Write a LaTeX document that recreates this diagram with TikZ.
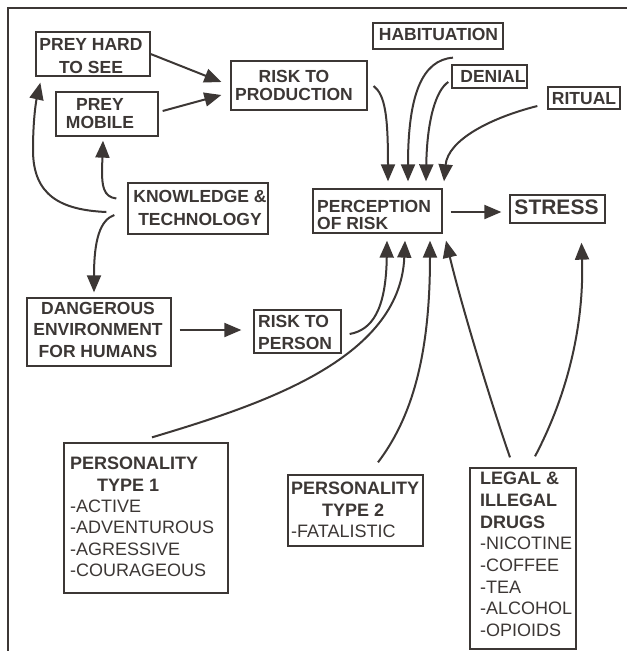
\documentclass[tikz,border=0pt]{standalone}
\usepackage{fontspec}
\setmainfont{Liberation Sans}
\usetikzlibrary{arrows.meta,calc}
\definecolor{ink}{RGB}{60,55,53}
\begin{document}
\begin{tikzpicture}[x=1pt,y=-1pt,
  box/.style={draw=ink, line width=1.3pt, inner sep=0pt, rectangle},
  lbl/.style={inner sep=0pt, text=ink, font={\fontsize{17.5}{21.5}\selectfont\bfseries}},
  arr/.style={draw=ink, line width=2pt, -{Triangle[length=17pt,width=14pt]}},
]
\useasboundingbox (0,0) rectangle (627,651);
\draw[ink, line width=1.5pt] (8,651) -- (8,8) -- (627,8);

% boxes
\node[box, minimum width=114pt, minimum height=44pt] (hard) at (93,54) {};
\node[box, minimum width=102pt, minimum height=44pt] (mobile) at (107,114) {};
\node[box, minimum width=136pt, minimum height=49pt] (prod) at (299,85.5) {};
\node[box, minimum width=130pt, minimum height=26pt] (habit) at (438,36) {};
\node[box, minimum width=75pt, minimum height=23pt] (denial) at (489.5,76.5) {};
\node[box, minimum width=72pt, minimum height=22pt] (ritual) at (584,98) {};
\node[box, minimum width=129pt, minimum height=44pt] (perc) at (377.5,211) {};
\node[box, minimum width=95pt, minimum height=28pt] (stress) at (557.5,209) {};
\node[box, minimum width=140pt, minimum height=51pt] (know) at (198,208.5) {};
\node[box, minimum width=144pt, minimum height=68pt] (danger) at (99,332) {};
\node[box, minimum width=87pt, minimum height=43pt] (person) at (297.5,331.5) {};
\node[box, minimum width=164pt, minimum height=150pt] (pt1) at (146,518) {};
\node[box, minimum width=135pt, minimum height=71pt] (pt2) at (355.5,510.5) {};
\node[box, minimum width=106pt, minimum height=181pt] (drugs) at (523,558.5) {};

% texts
\node[lbl, anchor=north, align=center, font={\fontsize{17.5}{23}\selectfont\bfseries}] (hardt) at (91,38) {PREY HARD\\TO SEE};
\node[lbl, anchor=north, align=center, font={\fontsize{17.5}{18}\selectfont\bfseries}] (mobilet) at (100,98) {PREY\\MOBILE};
\node[lbl, anchor=north, align=center, font={\fontsize{17.5}{18}\selectfont\bfseries}] (prodt) at (294,70) {RISK TO\\PRODUCTION};
\node[lbl, anchor=north] (habitt) at (438.5,28) {HABITUATION};
\node[lbl, anchor=north] (denialt) at (493,70) {DENIAL};
\node[lbl, anchor=north] (ritualt) at (584,92) {RITUAL};
\node[lbl, anchor=north west, align=left, font={\fontsize{17.5}{17.5}\selectfont\bfseries}] (perct) at (317,200) {PERCEPTION\\OF RISK};
\node[lbl, anchor=north, font={\fontsize{21}{24}\selectfont\bfseries}] (stresst) at (556.5,200) {STRESS};
\node[lbl, anchor=north, align=center, font={\fontsize{17.5}{23}\selectfont\bfseries}] (knowt) at (200,190) {KNOWLEDGE \&\\TECHNOLOGY};
\node[lbl, anchor=north, align=center] (dangert) at (98,302) {DANGEROUS\\ENVIRONMENT\\FOR HUMANS};
\node[lbl, anchor=north west, align=left, font={\fontsize{17.5}{22}\selectfont\bfseries}] (persont) at (258,315) {RISK TO\\PERSON};
\node[lbl, anchor=north west, align=left, font={\fontsize{18}{21.4}\selectfont\bfseries}] (pt1t) at (70,457)
  {PERSONALITY\\\hspace*{27pt}TYPE 1\\\mdseries -ACTIVE\\\mdseries -ADVENTUROUS\\\mdseries -AGRESSIVE\\\mdseries -COURAGEOUS};
\node[lbl, anchor=north west, align=left, font={\fontsize{18}{21.5}\selectfont\bfseries}] (pt2t) at (291,482)
  {PERSONALITY\\\hspace*{31pt}TYPE 2\\\mdseries -FATALISTIC};
\node[lbl, anchor=north west, align=left, font={\fontsize{18}{21.7}\selectfont\bfseries}] (drugst) at (480,472)
  {LEGAL \&\\ILLEGAL\\DRUGS\\\mdseries -NICOTINE\\\mdseries -COFFEE\\\mdseries -TEA\\\mdseries -ALCOHOL\\\mdseries -OPIOIDS};

% connectors
\draw[arr] (hard.east) -- ($(prod.west)+(-9,-3.5)$);
\draw[arr] ($(mobile.east)+(4,-3)$) -- ($(prod.west)+(-9,9.5)$);
\draw[arr] ($(know.west)+(-11,-10)$) .. controls (103,197) and (102,185) .. (102,170) -- ($(mobile.south)+(-4,4)$);
\draw[arr] ($(know.west)+(-21,3.5)$) .. controls (60,210) and (33,195) .. (33,150) .. controls (33,115) and (37,97) .. ($(hard.south west)+(5,6)$);
\draw[arr] ($(know.west)+(-13,6.5)$) .. controls (100,220) and (94,240) .. ($(danger.north)+(-5,-5)$);
\draw[arr] ($(danger.east)+(8,-2)$) -- ($(person.west)+(-12,-1.5)$);
\draw[arr] ($(prod.east)+(6,0.5)$) .. controls (385,95) and (388,115) .. ($(perc.north)+(10.5,-7)$);
\draw[arr] ($(habit.south)+(15,8)$) .. controls (422,60) and (408,95) .. ($(perc.north)+(30.5,-7)$);
\draw[arr] ($(denial.west)+(-3,5.5)$) .. controls (436,90) and (427,120) .. ($(perc.north)+(48.5,-7)$);
\draw[arr] ($(ritual.west)+(-10,8)$) .. controls (490,118) and (448,140) .. ($(perc.north)+(66.5,-7)$);
\draw[arr] ($(perc.east)+(8,1)$) -- ($(stress.west)+(-8,3)$);
\draw[arr] ($(person.east)+(8,2.5)$) .. controls (372,330) and (386,310) .. ($(perc.south)+(9.5,7)$);
\draw[arr] ($(pt1.north)+(6,-5)$) .. controls (260,405) and (400,360) .. ($(perc.south)+(27.5,7)$);
\draw[arr] ($(pt2.north)+(22.5,-12)$) .. controls (410,420) and (430,360) .. ($(perc.south)+(52.5,7)$);
\draw[arr] ($(drugs.north)+(-13,-10)$) .. controls (490,400) and (460,300) .. ($(perc.south)+(68.5,7)$);
\draw[arr] ($(drugs.north)+(12,-11)$) .. controls (570,390) and (584,320) .. ($(stress.south)+(24,19)$);
\end{tikzpicture}
\end{document}
